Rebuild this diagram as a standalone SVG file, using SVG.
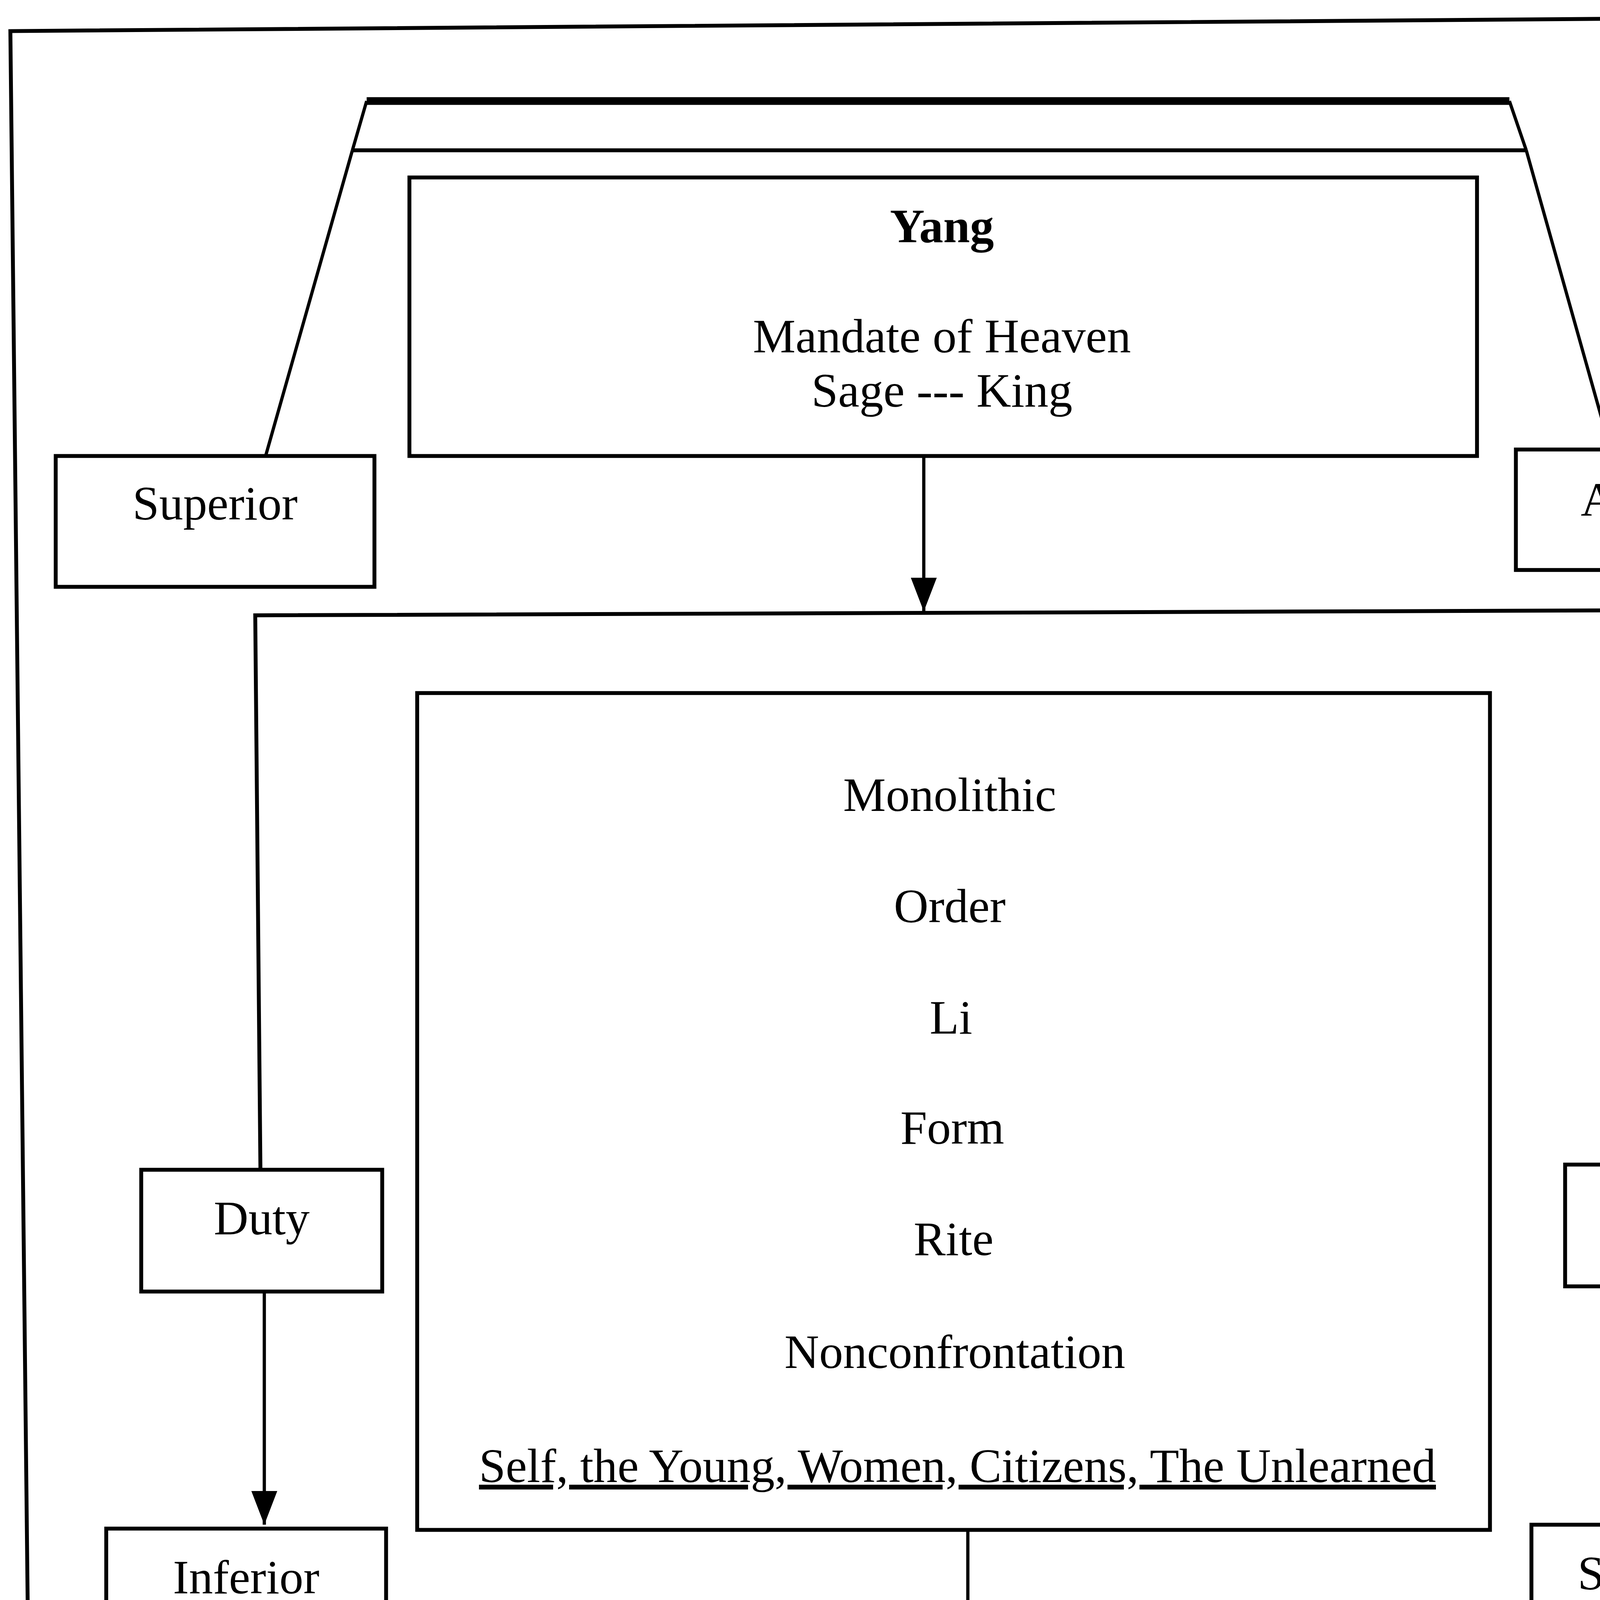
<svg xmlns="http://www.w3.org/2000/svg" width="4806" height="5200" viewBox="0 0 4806 5200">
<defs>
<style>
.box{fill:none;stroke:#000;stroke-width:3}
.ln{fill:none;stroke:#000;stroke-width:2.5}
.thick{fill:none;stroke:#000;stroke-width:6}
.conn{fill:none;stroke:#000;stroke-width:2.5}
text{font-family:"Liberation Serif","Times New Roman",serif;font-size:37px;fill:#000;text-anchor:middle}
.b{font-weight:bold}
</style>
<marker id="ah" viewBox="0 0 26 20" markerUnits="userSpaceOnUse" markerWidth="26" markerHeight="20" refX="26" refY="10" orient="auto">
<path d="M0,0 L26,10 L0,20 z" fill="#000"/>
</marker>
</defs>
<rect width="4806" height="5200" fill="#fff"/>
<g transform="scale(3.3168,3.3163)">
<g id="frame">
<polyline class="box" points="25,1568 8,24 1440,13 1444,1568"/>
</g>
<g id="top-trapezoid">
<line class="thick" x1="283" y1="78" x2="1165" y2="78"/>
<line class="box" x1="272" y1="116" x2="1178" y2="116"/>
<line class="ln" x1="283" y1="78" x2="272" y2="116"/>
<line class="ln" x1="1165" y1="78" x2="1178" y2="116"/>
</g>
<g id="bottom-trapezoid">
<line class="box" x1="299" y1="1482" x2="1210" y2="1482"/>
<line class="thick" x1="315" y1="1523" x2="1192" y2="1523"/>
<line class="ln" x1="299" y1="1482" x2="315" y2="1523"/>
<line class="ln" x1="1210" y1="1482" x2="1192" y2="1523"/>
</g>
<g id="yang">
<rect class="box" x="316" y="137" width="824" height="215"/>
<text class="b" x="727" y="187">Yang</text>
<text x="727" y="272">Mandate of Heaven</text>
<text x="727" y="314">Sage --- King</text>
</g>
<g id="superior">
<rect class="box" x="43" y="352" width="246" height="101"/>
<text x="166" y="401">Superior</text>
</g>
<g id="authority">
<rect class="box" x="1170" y="347" width="244" height="93"/>
<text x="1292" y="398">Authority</text>
</g>
<g id="center">
<rect class="box" x="322" y="535" width="828" height="646"/>
<text x="733" y="626">Monolithic</text>
<text x="733" y="712">Order</text>
<text x="734" y="798">Li</text>
<text x="735" y="883">Form</text>
<text x="736" y="969">Rite</text>
<text x="737" y="1056">Nonconfrontation</text>
<text x="739" y="1144" text-decoration="underline">Self, the Young, Women, Citizens, The Unlearned</text>
</g>
<g id="duty">
<rect class="box" x="109" y="903" width="186" height="94"/>
<text x="202" y="953">Duty</text>
</g>
<g id="passivity">
<rect class="box" x="1208" y="899" width="215" height="94"/>
<text x="1315" y="950">Passivity</text>
</g>
<g id="inferior">
<rect class="box" x="82" y="1180" width="216" height="95"/>
<text x="190" y="1230">Inferior</text>
</g>
<g id="submission">
<rect class="box" x="1182" y="1177" width="244" height="95"/>
<text x="1304" y="1227">Submission</text>
</g>
<g id="ying">
<rect class="box" x="331" y="1283" width="829" height="168"/>
<text x="745" y="1333">Subject</text>
<text class="b" x="746" y="1427">Ying</text>
</g>
<g id="connectors">
<line class="ln" x1="272" y1="116" x2="205" y2="352"/>
<line class="ln" x1="1178" y1="116" x2="1243" y2="347"/>
<polyline class="box" points="201,903 197,475 1294,471 1299,899"/>
<line class="ln" x1="205" y1="1275" x2="299" y2="1482"/>
<line class="ln" x1="1295" y1="1272" x2="1210" y2="1482"/>
<line class="conn" x1="713" y1="352" x2="713" y2="472" marker-end="url(#ah)"/>
<line class="conn" x1="204" y1="997" x2="204" y2="1177" marker-end="url(#ah)"/>
<line class="conn" x1="1301" y1="993" x2="1302" y2="1177" marker-end="url(#ah)"/>
<line class="conn" x1="747" y1="1181" x2="747" y2="1272" marker-end="url(#ah)"/>
</g>
</g>
</svg>
